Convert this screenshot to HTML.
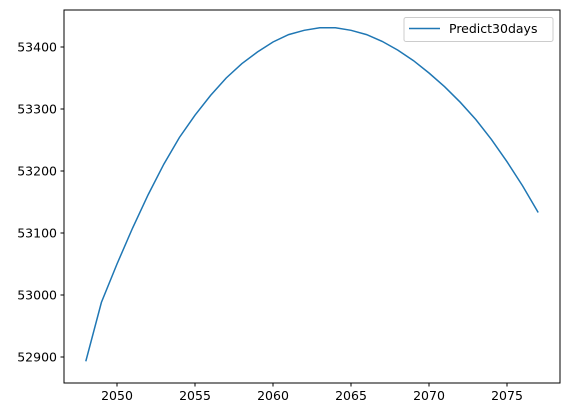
<!DOCTYPE html>
<html><head><meta charset="utf-8"><style>
body{margin:0;background:#fff;}
svg{display:block;font-family:"DejaVu Sans","Liberation Sans",sans-serif;}
</style></head><body>
<svg id="chart" width="569" height="413" viewBox="0 0 569 413">
<rect x="64" y="10" width="496" height="373" fill="#fff" stroke="#000" stroke-width="1"/>
<g id="xt"></g>
<g id="yt"></g>
<path id="line" fill="none" stroke="#1f77b4" stroke-width="1.5"/>
<g>
<rect x="404" y="17.5" width="149" height="24" rx="2" fill="#fff" stroke="#ccc"/>
<line x1="409" y1="28.5" x2="440" y2="28.5" stroke="#1f77b4" stroke-width="1.5"/>
<text x="449" y="33" font-size="12.5" fill="#000">Predict30days</text>
</g>
</svg>
<script>
const years=[2048,2049,2050,2051,2052,2053,2054,2055,2056,2057,2058,2059,2060,2061,2062,2063,2064,2065,2066,2067,2068,2069,2070,2071,2072,2073,2074,2075,2076,2077];
const values=[52893,52988,53050,53108,53162,53211,53254,53290,53322,53350,53373,53392,53408,53420,53427,53431,53431,53427,53420,53409,53395,53378,53358,53336,53311,53283,53251,53215,53176,53133];
const xTicks=[2050,2055,2060,2065,2070,2075];
const yTicks=[52900,53000,53100,53200,53300,53400];
const X=v=>117+(v-2050)*15.6;
const Y=v=>357-(v-52900)*0.62;
const ns="http://www.w3.org/2000/svg";
const xt=document.getElementById('xt'),yt=document.getElementById('yt');
xTicks.forEach(t=>{
 const l=document.createElementNS(ns,'line');
 l.setAttribute('x1',X(t));l.setAttribute('x2',X(t));l.setAttribute('y1',383);l.setAttribute('y2',386.5);l.setAttribute('stroke','#000');
 
 
 xt.appendChild(l);
 const s=document.createElementNS(ns,'text');
 s.setAttribute('x',X(t));s.setAttribute('y',400);s.setAttribute('text-anchor','middle');s.setAttribute('font-size','12.5');s.textContent=t;
 
 
 xt.appendChild(s);
});
yTicks.forEach(t=>{
 const l=document.createElementNS(ns,'line');
 l.setAttribute('x1',60.5);l.setAttribute('x2',64);l.setAttribute('y1',Y(t));l.setAttribute('y2',Y(t));l.setAttribute('stroke','#000');
 
 
 yt.appendChild(l);
 const s=document.createElementNS(ns,'text');
 s.setAttribute('x',57);s.setAttribute('y',Y(t)+4.5);s.setAttribute('text-anchor','end');s.setAttribute('font-size','12.5');s.textContent=t;
 
 
 yt.appendChild(s);
});
document.getElementById('line').setAttribute('d',years.map((y,i)=>(i?'L':'M')+X(y).toFixed(1)+','+Y(values[i]).toFixed(1)).join(''));
</script>
</body></html>
